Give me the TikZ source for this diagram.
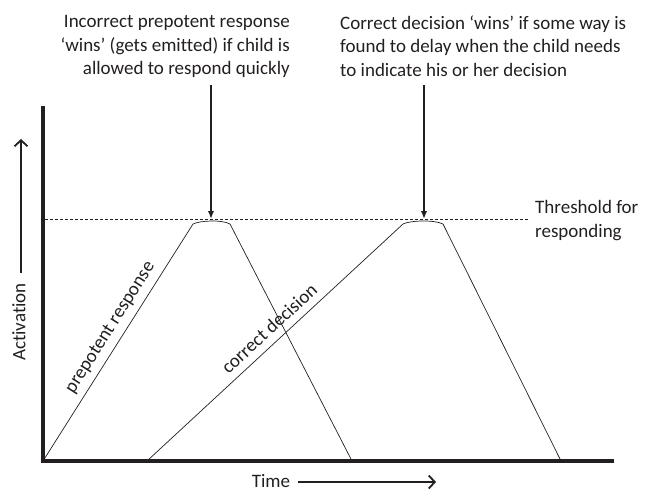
\documentclass[tikz,border=0pt]{standalone}
\usepackage{fontspec}
\setmainfont{Carlito}[Ligatures=NoCommon]
\usepackage{tikz}
\usetikzlibrary{arrows.meta,positioning}
\definecolor{inkgrey}{RGB}{35,31,32}

\begin{document}
\begin{tikzpicture}[
    x=1pt,y=-1pt,
    every node/.style={text=inkgrey,font=\fontsize{19}{23.5}\selectfont},
    note/.style={inner sep=0pt,align=left},
    axis/.style={draw=inkgrey,line width=3.2pt},
    curve/.style={draw=inkgrey,line width=0.7pt},
    threshold/.style={draw=inkgrey,line width=0.7pt,dash pattern=on 3pt off 2pt},
    pointer/.style={draw=inkgrey,-{Latex[length=8pt,width=6.5pt]},line width=1.8pt},
    dirarrow/.style={draw=inkgrey,-{Straight Barb[length=6pt,width=13pt,line width=1.8pt]},line width=1.8pt}
  ]
    \useasboundingbox (0,0) rectangle (646,491);

    \coordinate (ytop) at (43,106);
    \coordinate (origin) at (43,461);
    \coordinate (xend) at (614,461);

    \coordinate (pstart) at (43,461);
    \coordinate (pleft) at (193,224);
    \coordinate (pright) at (230,224);
    \coordinate (pend) at (352,461);

    \coordinate (cstart) at (147,461);
    \coordinate (cleft) at (403,224);
    \coordinate (cright) at (443,224);
    \coordinate (cend) at (561,461);

    \coordinate (thleft) at (45,219.5);
    \coordinate (thright) at (528,219.5);

    \node[note,anchor=north east,align=right] (wrongnote) at (290,15.5)
      {Incorrect prepotent response\\`wins' (gets emitted) if child is\\allowed to respond quickly};
    \node[note,anchor=north west] (rightnote) at (340,15.5)
      {Correct decision `wins' if some way is\\found to delay when the child needs\\to indicate his or her decision};
    \node[note,anchor=north west] (thlabel) at (535,200.5) {Threshold for\\responding};
    \node[rotate=90,inner sep=0pt] (actlabel) at (19,322) {Activation};
    \node[inner sep=0pt] (timelabel) at (271,481) {Time};

    \coordinate (wrongfrom) at (211,85);
    \coordinate (wrongto) at (211,219);
    \coordinate (rightfrom) at (424,85);
    \coordinate (rightto) at (424,219);
    \coordinate (actfoot) at (21,273);
    \coordinate (acttop) at (21,139);
    \coordinate (timefoot) at (298,482);
    \coordinate (timeend) at (436,482);

    \draw[threshold] (thleft) -- (thright);
    \draw[axis] (ytop) |- (xend);

    \draw[curve] (pstart) -- node[sloped,above=3pt,pos=0.53] (plabel) {prepotent response} (pleft)
      .. controls (200,220.5) and (222,219.5) .. (pright) -- (pend);
    \draw[curve] (cstart) -- node[sloped,above=4pt,pos=0.515] (clabel) {correct decision} (cleft)
      .. controls (410,220.5) and (434,219.5) .. (cright) -- (cend);

    \draw[pointer] (wrongfrom) -- (wrongto);
    \draw[pointer] (rightfrom) -- (rightto);
    \draw[dirarrow] (actfoot) -- (acttop);
    \draw[dirarrow] (timefoot) -- (timeend);
  \end{tikzpicture}
\end{document}
